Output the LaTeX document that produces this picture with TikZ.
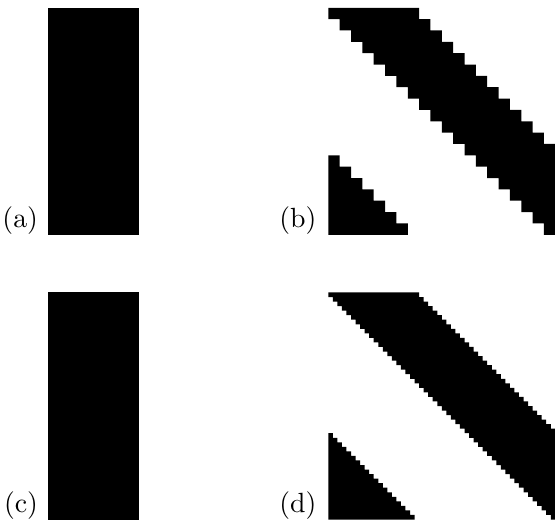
\documentclass[tikz,border=0pt]{standalone}
\usepackage{tikz}

\begin{document}
\begin{tikzpicture}[
    x=0.36pt, y=-0.36pt,
    lbl/.style={anchor=base east, inner sep=0pt},
    ink/.style={fill=black}
]
\useasboundingbox (0,0) rectangle (555,525);

% (a) bar
\fill[ink] (48.3,7.8) rectangle ++(90.8,227);
\node[lbl] (la) at (38.5,228) {(a)};

% (b) stripes on a 20x20 grid
\begin{scope}[shift={(328.3,7.8)}, x=4.086pt, y=-4.086pt]
\fill[ink] foreach \r in {0,...,19} {(\r,\r) rectangle ({min(\r+8,20)},\r+1)};
\fill[ink] foreach \r in {13,...,19} {(0,\r) rectangle (\r-12,\r+1)};
\end{scope}
\node[lbl] (lb) at (317,228) {(b)};

% (c) bar
\fill[ink] (48.3,292.5) rectangle ++(90.8,227);
\node[lbl] (lc) at (38.5,512.5) {(c)};

% (d) stripes on a 50x50 grid
\begin{scope}[shift={(328.3,292.5)}, x=1.6344pt, y=-1.6344pt]
\fill[ink] foreach \r in {0,...,49} {(\r,\r) rectangle ({min(\r+20,50)},\r+1)};
\fill[ink] foreach \r in {31,...,49} {(0,\r) rectangle (\r-30,\r+1)};
\end{scope}
\node[lbl] (ld) at (317,512.5) {(d)};
\end{tikzpicture}
\end{document}
